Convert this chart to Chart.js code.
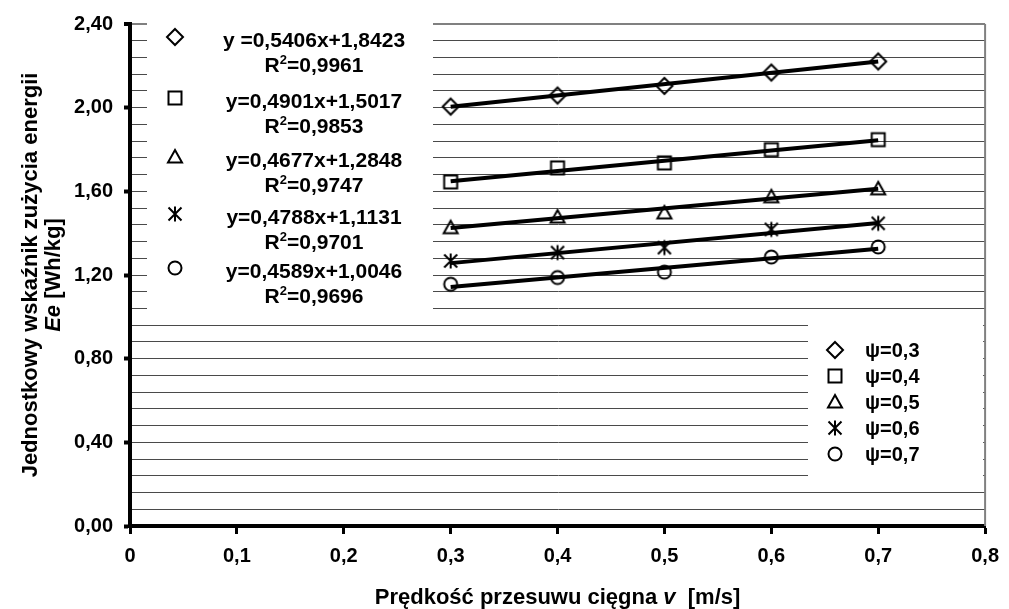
<!DOCTYPE html>
<html>
<head>
<meta charset="utf-8">
<script src="https://cdn.jsdelivr.net/npm/chart.js@4.4.1/dist/chart.umd.min.js"></script>
<style>
  html, body { margin: 0; padding: 0; background: #fff; }
  #wrap { width: 1009px; height: 609px; }
</style>
</head>
<body>
<div id="wrap"><canvas id="chart" width="1009" height="609"></canvas></div>
<script>
// speeds on the x axis [m/s]
const speeds = [0.3, 0.4, 0.5, 0.6, 0.7];

const energyPsi03 = [2.005, 2.058, 2.104, 2.168, 2.221];
const energyPsi04 = [1.645, 1.712, 1.736, 1.799, 1.847];
const energyPsi05 = [1.426, 1.477, 1.497, 1.574, 1.612];
const energyPsi06 = [1.267, 1.307, 1.331, 1.418, 1.447];
const energyPsi07 = [1.156, 1.188, 1.214, 1.286, 1.334];

// linear trends printed on the chart
const trendSlopes = [0.5406, 0.4901, 0.4677, 0.4788, 0.4589];
const trendIntercepts = [1.8423, 1.5017, 1.2848, 1.1131, 1.0046];
const equationLabels = ['y =0,5406x+1,8423', 'y=0,4901x+1,5017', 'y=0,4677x+1,2848', 'y=0,4788x+1,1131', 'y=0,4589x+1,0046'];
const r2Labels = ['0,9961', '0,9853', '0,9747', '0,9701', '0,9696'];
const psiLabels = ['ψ=0,3', 'ψ=0,4', 'ψ=0,5', 'ψ=0,6', 'ψ=0,7'];
const markerStyles = ['diamond', 'square', 'triangle', 'asterisk', 'circle'];

const FONT = '"Liberation Sans", Arial, sans-serif';

function drawMarker(g, style, x, y) {
    g.save();
    g.strokeStyle = '#000';
    g.lineWidth = 2;
    g.beginPath();
    if (style === 'diamond') {
        g.moveTo(x, y - 8); g.lineTo(x + 8, y); g.lineTo(x, y + 8); g.lineTo(x - 8, y); g.closePath();
    } else if (style === 'square') {
        g.rect(x - 6.5, y - 6.5, 13, 13);
    } else if (style === 'triangle') {
        g.moveTo(x, y - 7); g.lineTo(x + 7, y + 5.5); g.lineTo(x - 7, y + 5.5); g.closePath();
    } else if (style === 'asterisk') {
        g.moveTo(x, y - 7.5); g.lineTo(x, y + 7.5);
        g.moveTo(x - 6.5, y - 6.5); g.lineTo(x + 6.5, y + 6.5);
        g.moveTo(x + 6.5, y - 6.5); g.lineTo(x - 6.5, y + 6.5);
    } else {
        g.arc(x, y, 6.5, 0, Math.PI * 2);
    }
    g.stroke();
    g.restore();
}

function makeMarker(style) {
    const c = document.createElement('canvas');
    c.width = 24; c.height = 24;
    drawMarker(c.getContext('2d'), style, 12, 12);
    return c;
}

const series = [energyPsi03, energyPsi04, energyPsi05, energyPsi06, energyPsi07];
const datasets = [];
series.forEach((vals, i) => {
    datasets.push({
        data: speeds.map((s, k) => ({ x: s, y: vals[k] })),
        pointStyle: makeMarker(markerStyles[i]),
        showLine: false,
        order: 2
    });
    const a = trendSlopes[i], b = trendIntercepts[i];
    const x0 = speeds[0], x1 = speeds[speeds.length - 1];
    datasets.push({
        data: [{ x: x0, y: a * x0 + b }, { x: x1, y: a * x1 + b }],
        showLine: true,
        borderColor: '#000',
        borderWidth: 4,
        pointRadius: 0,
        order: 1
    });
});

function fmt(v, d) { return v.toFixed(d).replace('.', ','); }

const overlayPlugin = {
    id: 'overlay',
    beforeDatasetsDraw(chart) {
        const ctx = chart.ctx;
        const area = chart.chartArea;
        ctx.save();
        ctx.fillStyle = '#fff';
        ctx.fillRect(147, 21, 286, 295);
        ctx.fillRect(808, 317, area.right - 2 - 808, 168);
        // right border, kept visible next to the legend
        ctx.strokeStyle = '#808080';
        ctx.lineWidth = 2;
        ctx.beginPath();
        ctx.moveTo(area.right, area.top);
        ctx.lineTo(area.right, area.bottom);
        ctx.stroke();
        ctx.restore();
    },
    afterDraw(chart) {
        const ctx = chart.ctx;
        const area = chart.chartArea;
        ctx.save();
        ctx.fillStyle = '#000';
        ctx.textBaseline = 'alphabetic';

        // equations legend (top left)
        const rows = [37, 98, 157, 214, 268];
        rows.forEach((ry, i) => {
            drawMarker(ctx, markerStyles[i], 175, ry);
            ctx.font = 'bold 21px ' + FONT;
            ctx.textAlign = 'center';
            ctx.fillText(equationLabels[i], 314, ry + 10);
            const rest = '=' + r2Labels[i];
            const wR = ctx.measureText('R').width;
            const wRest = ctx.measureText(rest).width;
            ctx.font = 'bold 13px ' + FONT;
            const wSup = ctx.measureText('2').width;
            let x = 314 - (wR + wSup + wRest) / 2;
            ctx.textAlign = 'left';
            ctx.font = 'bold 21px ' + FONT;
            ctx.fillText('R', x, ry + 35); x += wR;
            ctx.font = 'bold 13px ' + FONT;
            ctx.fillText('2', x, ry + 27); x += wSup;
            ctx.font = 'bold 21px ' + FONT;
            ctx.fillText(rest, x, ry + 35);
        });

        // psi legend (bottom right)
        psiLabels.forEach((lab, i) => {
            const ry = 350 + i * 26;
            drawMarker(ctx, markerStyles[i], 835, ry);
            ctx.font = 'bold 20px ' + FONT;
            ctx.textAlign = 'left';
            ctx.fillText(lab, 865, ry + 7);
        });

        // x axis title
        const cx = (area.left + area.right) / 2;
        const p1 = 'Prędkość przesuwu cięgna ', p2 = 'v', p3 = '  [m/s]';
        ctx.font = 'bold 22px ' + FONT;
        const w1 = ctx.measureText(p1).width, w3 = ctx.measureText(p3).width;
        ctx.font = 'italic bold 22px ' + FONT;
        const w2 = ctx.measureText(p2).width;
        let tx = cx - (w1 + w2 + w3) / 2;
        ctx.textAlign = 'left';
        ctx.font = 'bold 22px ' + FONT; ctx.fillText(p1, tx, 604); tx += w1;
        ctx.font = 'italic bold 22px ' + FONT; ctx.fillText(p2, tx, 604); tx += w2;
        ctx.font = 'bold 22px ' + FONT; ctx.fillText(p3, tx, 604);

        // y axis title (two lines, rotated)
        const cy = (area.top + area.bottom) / 2;
        ctx.translate(0, cy);
        ctx.rotate(-Math.PI / 2);
        ctx.textAlign = 'center';
        ctx.font = 'bold 22px ' + FONT;
        ctx.fillText('Jednostkowy wskaźnik zużycia energii', 0, 37);
        const q1 = 'Ee', q2 = ' [Wh/kg]';
        ctx.font = 'italic bold 22px ' + FONT;
        const v1 = ctx.measureText(q1).width;
        ctx.font = 'bold 22px ' + FONT;
        const v2 = ctx.measureText(q2).width;
        let qx = -(v1 + v2) / 2;
        ctx.textAlign = 'left';
        ctx.font = 'italic bold 22px ' + FONT; ctx.fillText(q1, qx, 60); qx += v1;
        ctx.font = 'bold 22px ' + FONT; ctx.fillText(q2, qx, 60);
        ctx.restore();
    }
};

new Chart(document.getElementById('chart'), {
    type: 'scatter',
    data: { datasets: datasets },
    options: {
        responsive: false,
        animation: false,
        devicePixelRatio: 1,
        layout: { padding: { top: 24, right: 17, left: 0, bottom: 0 } },
        plugins: { legend: { display: false }, tooltip: { enabled: false } },
        scales: {
            x: {
                type: 'linear',
                min: 0, max: 0.8,
                afterFit(scale) { scale.height = 83; },
                border: { color: '#000', width: 4 },
                grid: {
                    drawOnChartArea: false,
                    tickLength: 8,
                    tickColor: '#000',
                    tickWidth: 3
                },
                ticks: {
                    stepSize: 0.1,
                    autoSkip: false,
                    maxRotation: 0,
                    padding: 10,
                    color: '#000',
                    font: { family: FONT, size: 20, weight: 'bold' },
                    callback: v => (Math.abs(v) < 1e-9 ? '0' : fmt(v, 1))
                }
            },
            y: {
                type: 'linear',
                min: 0, max: 2.4,
                afterFit(scale) { scale.width = 130; },
                border: { color: '#000', width: 4 },
                grid: {
                    color: c => (c.tick && Math.abs(c.tick.value - 2.4) < 1e-6) ? '#808080' : '#4a4a4a',
                    lineWidth: c => (c.tick && Math.abs(c.tick.value - 2.4) < 1e-6) ? 2 : 1,
                    tickLength: 6,
                    tickWidth: 4,
                    tickColor: c => (c.tick && Math.round(c.tick.value * 100) % 40 === 0) ? '#000' : 'rgba(0,0,0,0)'
                },
                ticks: {
                    stepSize: 0.08,
                    maxTicksLimit: 100,
                    autoSkip: false,
                    padding: 11,
                    color: '#000',
                    font: { family: FONT, size: 20, weight: 'bold' },
                    callback: v => (Math.round(v * 100) % 40 === 0 ? fmt(v, 2) : '')
                }
            }
        }
    },
    plugins: [overlayPlugin]
});
</script>
</body>
</html>
